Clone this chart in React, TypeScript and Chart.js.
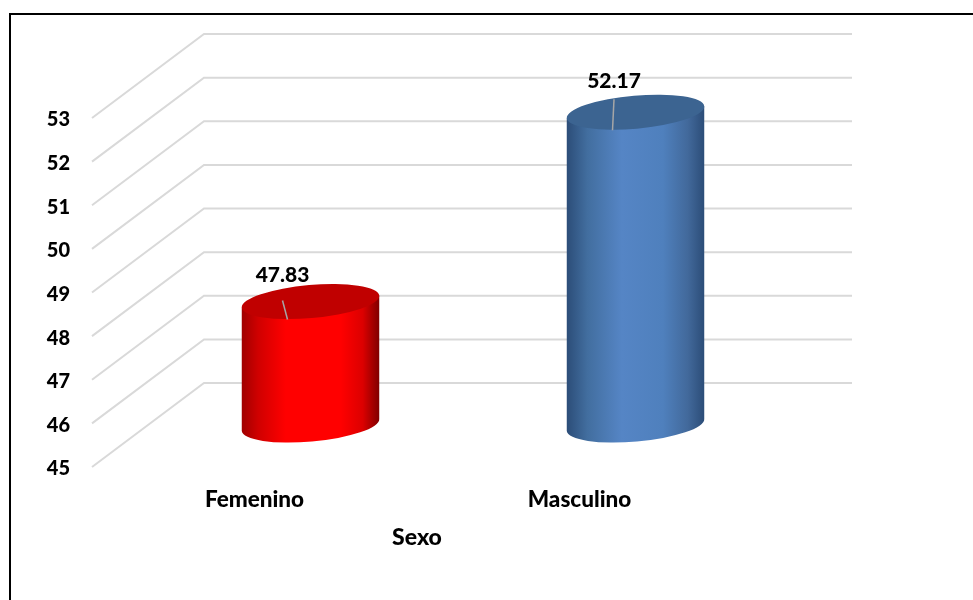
import React, { useEffect, useRef } from "react";
import { Chart, registerables } from "chart.js";

Chart.register(...registerables);

const categories = ["Femenino", "Masculino"];
const values = [47.83, 52.17];
const axisTitle = "Sexo";
const yMin = 45;
const yMax = 53;

const FONT = "Lato";
const WEIGHT = 900;
const TEXT_SHIFT = 2;
const DEPTH_X = 112;
const DEPTH_Y = -84;
const GRID_END_TRIM = 2;
const RX = 69;
const RY = 16.5;
const ROT = (-5 * Math.PI) / 180;

const capColors = ["#c00000", "#3c6491"];
const bodyStops: [number, string][][] = [
  [[0, "#a00000"], [0.12, "#d00000"], [0.32, "#ff0000"], [0.72, "#ff0000"], [0.88, "#dc0000"], [1, "#800000"]],
  [[0, "#2c4d78"], [0.15, "#426e9f"], [0.4, "#5585c5"], [0.7, "#4f80bd"], [0.88, "#42699b"], [1, "#2c4d78"]],
];
const labelOffsets = [
  { dx: -28, dy: -26, lineDy: -1 },
  { dx: -21.5, dy: -31, lineDy: -13 },
];

const cylinderPlugin = {
  id: "cylinder3d",
  beforeDraw(chart: any) {
    const { ctx, width, height } = chart;
    ctx.save();
    ctx.strokeStyle = "#000";
    ctx.lineWidth = 2;
    ctx.beginPath();
    ctx.moveTo(10, height);
    ctx.lineTo(10, 14);
    ctx.lineTo(width, 14);
    ctx.stroke();
    ctx.restore();
  },
  beforeDatasetsDraw(chart: any) {
    const { ctx, scales } = chart;
    const { x, y } = scales;
    ctx.save();
    ctx.strokeStyle = "#d9d9d9";
    ctx.lineWidth = 2;
    y.ticks.forEach((t: any) => {
      const py = y.getPixelForValue(t.value) - TEXT_SHIFT;
      ctx.beginPath();
      ctx.moveTo(x.left, py);
      ctx.lineTo(x.left + DEPTH_X, py + DEPTH_Y);
      ctx.lineTo(x.right + DEPTH_X - GRID_END_TRIM, py + DEPTH_Y);
      ctx.stroke();
    });
    ctx.restore();
  },
  afterDatasetsDraw(chart: any) {
    const { ctx, scales } = chart;
    const meta = chart.getDatasetMeta(0);
    meta.data.forEach((el: any, i: number) => {
      const cx = el.x + DEPTH_X / 2;
      const topY = el.y + DEPTH_Y / 2 - TEXT_SHIFT;
      const botY = scales.y.getPixelForValue(yMin) + DEPTH_Y / 2 - TEXT_SHIFT;
      const ex = RX * Math.cos(ROT);
      const ey = RX * Math.sin(ROT);
      ctx.save();
      const grad = ctx.createLinearGradient(cx - ex, 0, cx + ex, 0);
      bodyStops[i].forEach(([p, c]) => grad.addColorStop(p, c));
      ctx.fillStyle = grad;
      ctx.beginPath();
      ctx.moveTo(cx + ex, topY + ey);
      ctx.lineTo(cx + ex, botY + ey);
      ctx.ellipse(cx, botY, RX, RY, ROT, 0, Math.PI, false);
      ctx.lineTo(cx - ex, topY - ey);
      ctx.closePath();
      ctx.fill();
      ctx.fillStyle = capColors[i];
      ctx.beginPath();
      ctx.ellipse(cx, topY, RX, RY, ROT, 0, Math.PI * 2);
      ctx.fill();

      const off = labelOffsets[i];
      ctx.strokeStyle = "#a6a6a6";
      ctx.lineWidth = 1.5;
      ctx.beginPath();
      ctx.moveTo(cx + off.dx, topY + off.lineDy);
      ctx.lineTo(cx - 23, topY + 18);
      ctx.stroke();

      ctx.fillStyle = "#000";
      ctx.font = `${WEIGHT} 21px ${FONT}`;
      ctx.textAlign = "center";
      ctx.textBaseline = "middle";
      ctx.fillText(values[i].toFixed(2), cx + off.dx, topY + off.dy);
      ctx.restore();
    });
  },
};

export default function App() {
  const ref = useRef<HTMLCanvasElement>(null);
  useEffect(() => {
    document.body.style.margin = "0";
    const chart = new Chart(ref.current!, {
      type: "bar",
      data: {
        labels: categories,
        datasets: [
          {
            data: values,
            backgroundColor: "rgba(0,0,0,0)",
            barPercentage: 0.423,
            categoryPercentage: 1,
          },
        ],
      },
      options: {
        responsive: false,
        animation: false,
        layout: { padding: { left: 0, right: 231, top: 118 + TEXT_SHIFT, bottom: 0 } },
        plugins: { legend: { display: false }, tooltip: { enabled: false } },
        scales: {
          x: {
            grid: { display: false, drawTicks: false },
            border: { display: false },
            ticks: { color: "#000", font: { family: FONT, weight: WEIGHT, size: 22.5 }, padding: 17 },
            title: {
              display: true,
              text: axisTitle,
              color: "#000",
              font: { family: FONT, weight: WEIGHT, size: 23 },
              padding: { top: 0, bottom: 49 },
            },
            afterFit(scale: any) {
              scale.height = 131;
            },
          },
          y: {
            min: yMin,
            max: yMax,
            grid: { display: false, drawTicks: false },
            border: { display: false },
            ticks: {
              stepSize: 1,
              color: "#000",
              font: { family: FONT, weight: WEIGHT, size: 20 },
              padding: 22,
            },
            afterFit(scale: any) {
              scale.width = 92;
            },
          },
        },
      },
      plugins: [cylinderPlugin],
    } as any);
    return () => chart.destroy();
  }, []);
  return <canvas ref={ref} width={973} height={600} style={{ display: "block" }} />;
}
